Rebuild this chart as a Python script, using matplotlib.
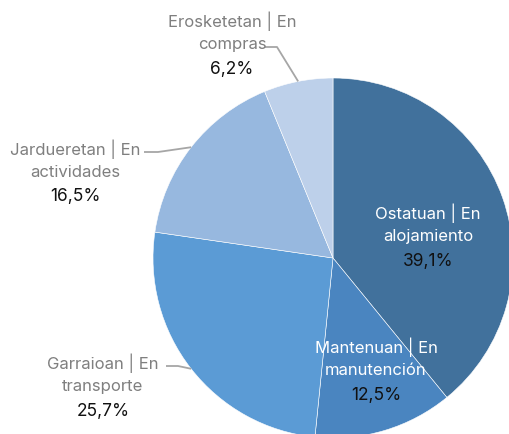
import numpy as np
import matplotlib.pyplot as plt

# datos del gráfico
etiquetas = ['Ostatuan | En\nalojamiento', 'Mantenuan | En\nmanutención', 'Garraioan | En\ntransporte',
             'Jardueretan | En\nactividades', 'Erosketetan | En\ncompras']
valores = [39.1, 12.5, 25.7, 16.5, 6.2]
colores = ['#41719C', '#4A85C0', '#5B9BD5', '#97B8DF', '#BDD0EA']

plt.rcParams['font.family'] = ['Inter', 'DejaVu Sans']

W, H = 509, 435
cx, cy, R = 333, 259, 180

def pix(px, py):
    # pasar de pixeles a coordenadas de datos (radio = 1)
    return (px - cx) / R, (cy - py) / R

fig = plt.figure(figsize=(W / 100, H / 100), dpi=100)
ax = fig.add_axes([0, 0, 1, 1])

wedges, _ = ax.pie(valores, colors=colores, startangle=90, counterclock=False, radius=1,
                   wedgeprops={'edgecolor': 'white', 'linewidth': 0.4})

# pie() cambia los limites, se ponen despues
ax.set_xlim(-cx / R, (W - cx) / R)
ax.set_ylim((cy - H) / R, cy / R)
ax.set_aspect('equal')
ax.axis('off')

# posiciones de texto (px): etiqueta, porcentaje, dentro/fuera
pos_txt = [(428, 224, 262), (376, 358, 396), (103, 374, 412), (75, 160, 197), (232, 32, 70)]
dentro = [True, True, False, False, False]
# inicio de la linea guia (px) para etiquetas de fuera
guia = {2: (166, 367, 178), 3: (144, 153, 158), 4: (265, 48, 277)}

for i, (w, lab, v) in enumerate(zip(wedges, etiquetas, valores)):
    x, yl, yp = pos_txt[i]
    col = 'white' if dentro[i] else '#7F7F7F'
    ax.text(*pix(x, yl), lab, ha='center', va='center', fontsize=12, color=col, linespacing=1.5)
    ax.text(*pix(x, yp), f'{v:.1f}%'.replace('.', ','), ha='center', va='center', fontsize=12.5,
            color='#111111')
    if i in guia:
        ang = np.deg2rad((w.theta1 + w.theta2) / 2)
        gx0, gy0, gx1 = guia[i]
        x0, y0 = pix(gx0, gy0)
        x1, _ = pix(gx1, gy0)
        ax.plot([x0, x1, np.cos(ang)], [y0, y0, np.sin(ang)], color='#A6A6A6', lw=1.3,
                solid_capstyle='butt')

fig.savefig('out.png', dpi=100)
